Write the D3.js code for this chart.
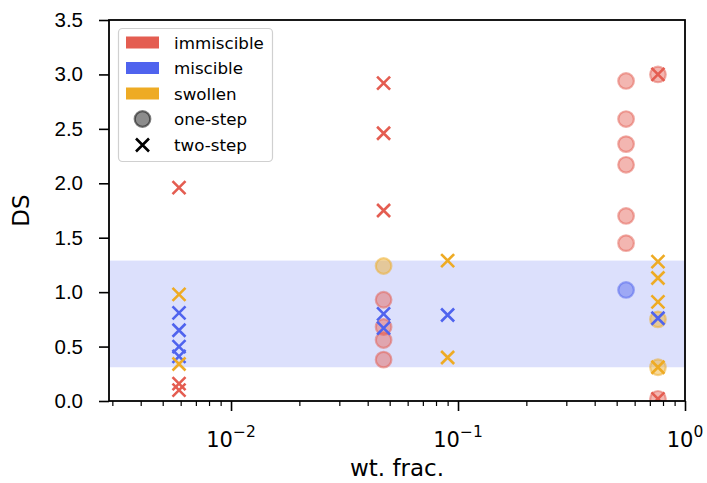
<!DOCTYPE html>
<html>
<head>
<meta charset="utf-8">
<script src="https://cdn.jsdelivr.net/npm/d3@7"></script>
<style>
  html, body { margin: 0; padding: 0; background: #fff; }
  svg { display: block; font-family: "DejaVu Sans", sans-serif; }
</style>
</head>
<body>
<svg id="chart" width="707" height="483"></svg>
<script>
// ---- data ----
const categories = ["immiscible", "miscible", "swollen"];
const methods = ["one-step", "two-step"];
const colors = ["#e45d51", "#4f63ee", "#eeab24"];

const immiscibleOneStep = [[0.047, 0.93], [0.047, 0.68], [0.047, 0.56], [0.047, 0.38],
  [0.55, 2.94], [0.55, 2.59], [0.55, 2.36], [0.55, 2.17], [0.55, 1.70], [0.55, 1.45],
  [0.76, 3.0], [0.76, 0.02]];
const miscibleOneStep = [[0.55, 1.02]];
const swollenOneStep = [[0.047, 1.24], [0.76, 0.75], [0.76, 0.31]];

const immiscibleTwoStep = [[0.0059, 1.96], [0.0059, 0.16], [0.0059, 0.10],
  [0.047, 2.92], [0.047, 2.46], [0.047, 1.75], [0.76, 3.0], [0.76, 0.02]];
const miscibleTwoStep = [[0.0059, 0.81], [0.0059, 0.65], [0.0059, 0.50], [0.0059, 0.41],
  [0.047, 0.80], [0.047, 0.67], [0.09, 0.79], [0.76, 0.76]];
const swollenTwoStep = [[0.0059, 0.98], [0.0059, 0.34], [0.09, 1.29], [0.09, 0.40],
  [0.76, 1.28], [0.76, 1.13], [0.76, 0.91], [0.76, 0.31]];

const band = [0.31, 1.29];
const xDomain = [0.0029, 1];
const yDomain = [0, 3.5];
const yTicks = [0, 0.5, 1.0, 1.5, 2.0, 2.5, 3.0, 3.5];
const xMajorTicks = [0.01, 0.1, 1];
const xMinorTicks = [0.003,0.004,0.005,0.006,0.007,0.008,0.009,
  0.02,0.03,0.04,0.05,0.06,0.07,0.08,0.09,
  0.2,0.3,0.4,0.5,0.6,0.7,0.8,0.9];
const xMajorExp = ["−2", "−1", "0"];

// ---- layout ----
const L = 109, R = 685, T = 20, B = 401;
const svg = d3.select("#chart");
const x = d3.scaleLog().domain(xDomain).range([L, R]);
const y = d3.scaleLinear().domain(yDomain).range([B, T]);

svg.append("defs").append("clipPath").attr("id", "clip")
  .append("rect").attr("x", L).attr("y", T).attr("width", R - L).attr("height", B - T);

// band
svg.append("rect")
  .attr("x", L).attr("width", R - L)
  .attr("y", y(band[1])).attr("height", y(band[0]) - y(band[1]))
  .attr("fill", colors[1]).attr("fill-opacity", 0.2);

const plot = svg.append("g").attr("clip-path", "url(#clip)");

const oneStep = [immiscibleOneStep, miscibleOneStep, swollenOneStep];
const twoStep = [immiscibleTwoStep, miscibleTwoStep, swollenTwoStep];

oneStep.forEach((pts, i) => {
  plot.append("g").selectAll("circle").data(pts).join("circle")
    .attr("cx", d => x(d[0])).attr("cy", d => y(d[1])).attr("r", 7.8)
    .attr("fill", colors[i]).attr("fill-opacity", 0.45)
    .attr("stroke", colors[i]).attr("stroke-opacity", 0.5).attr("stroke-width", 2.2);
});

const xs = 6.5;
function xPath(cx, cy) {
  return `M${cx - xs},${cy - xs}L${cx + xs},${cy + xs}M${cx - xs},${cy + xs}L${cx + xs},${cy - xs}`;
}
twoStep.forEach((pts, i) => {
  plot.append("g").selectAll("path").data(pts).join("path")
    .attr("d", d => xPath(x(d[0]), y(d[1])))
    .attr("fill", "none").attr("stroke", colors[i]).attr("stroke-width", 2.6);
});

// axes
const yAxis = svg.append("g").attr("transform", `translate(${L},0)`)
  .call(d3.axisLeft(y).tickValues(yTicks).tickFormat(d3.format(".1f")).tickSize(10).tickPadding(16));
const xAxisMinor = svg.append("g").attr("transform", `translate(0,${B})`)
  .call(d3.axisBottom(x).tickValues(xMinorTicks).tickFormat("").tickSize(5));
const xAxisMajor = svg.append("g").attr("transform", `translate(0,${B})`)
  .call(d3.axisBottom(x).tickValues(xMajorTicks).tickFormat("").tickSize(10));

[yAxis, xAxisMinor, xAxisMajor].forEach(g => {
  g.select(".domain").remove();
  g.selectAll("line").attr("stroke", "#000").attr("stroke-width", 1.6);
  g.selectAll("text").attr("fill", "#000").attr("font-size", 20.5);
});
xAxisMinor.selectAll("line").attr("stroke-width", 1.2);

// x major labels with superscripts
xMajorTicks.forEach((t, i) => {
  const txt = svg.append("text")
    .attr("x", x(t)).attr("y", 447)
    .attr("text-anchor", "middle").attr("font-size", 21).attr("fill", "#000");
  txt.append("tspan").text("10");
  txt.append("tspan").attr("dy", -10).attr("font-size", 15.5).text(xMajorExp[i]);
});

// frame
svg.append("rect").attr("x", L).attr("y", T).attr("width", R - L).attr("height", B - T)
  .attr("fill", "none").attr("stroke", "#000").attr("stroke-width", 1.8);

// axis labels
svg.append("text").attr("x", (L + R) / 2).attr("y", 476).attr("text-anchor", "middle")
  .attr("font-size", 23).attr("fill", "#000").text("wt. frac.");
svg.append("text").attr("transform", `translate(29,${(T + B) / 2}) rotate(-90)`)
  .attr("text-anchor", "middle").attr("font-size", 23).attr("fill", "#000").text("DS");

// legend
const lg = svg.append("g");
lg.append("rect").attr("x", 118.5).attr("y", 28.5).attr("width", 154).attr("height", 133)
  .attr("rx", 4).attr("fill", "#fff").attr("fill-opacity", 0.8)
  .attr("stroke", "#d0d0d0").attr("stroke-width", 1.2);
const rowsY = [42.5, 68, 93.5, 119, 145];
categories.forEach((c, i) => {
  lg.append("rect").attr("x", 126).attr("y", rowsY[i] - 6).attr("width", 33).attr("height", 12)
    .attr("fill", colors[i]);
  lg.append("text").attr("x", 174).attr("y", rowsY[i] + 6).attr("font-size", 16.7)
    .attr("fill", "#000").text(c);
});
lg.append("circle").attr("cx", 142.5).attr("cy", rowsY[3]).attr("r", 7.8)
  .attr("fill", "#000").attr("fill-opacity", 0.45)
  .attr("stroke", "#000").attr("stroke-opacity", 0.5).attr("stroke-width", 2.2);
lg.append("path").attr("d", xPath(142.5, rowsY[4])).attr("stroke", "#000")
  .attr("stroke-width", 2.6).attr("fill", "none");
methods.forEach((m, i) => {
  lg.append("text").attr("x", 174).attr("y", rowsY[3 + i] + 6).attr("font-size", 16.7)
    .attr("fill", "#000").text(m);
});
</script>
</body>
</html>
